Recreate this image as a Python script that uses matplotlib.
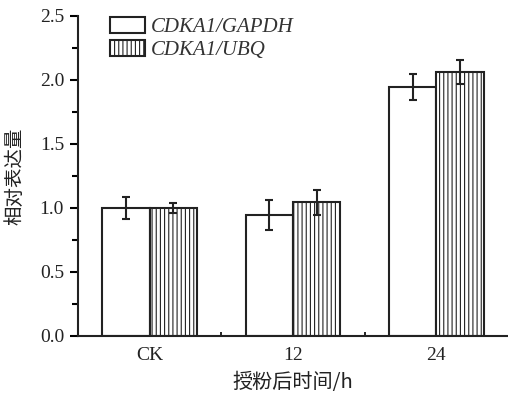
import numpy as np
import matplotlib.pyplot as plt
from matplotlib.ticker import MultipleLocator, FixedLocator

# data
groups = ['CK', '12', '24']
gapdh = [1.00, 0.945, 1.943]
gapdh_err = [0.085, 0.115, 0.10]
ubq = [1.00, 1.044, 2.065]
ubq_err = [0.04, 0.10, 0.095]

plt.rcParams['hatch.linewidth'] = 0.8
serif = ['Liberation Serif', 'DejaVu Serif']
cjk = ['Noto Sans CJK SC', 'DejaVu Sans']

fig = plt.figure(figsize=(5.08, 4.0), dpi=100)
ax = fig.add_axes([0.1535, 0.16, 0.8465, 0.80])

x = np.arange(len(groups))
w = 0.33
err_kw = dict(elinewidth=1.5, capsize=3, capthick=1.5, ecolor='#222222')
ax.bar(x - w / 2, gapdh, w, yerr=gapdh_err, color='white', edgecolor='#222222',
       linewidth=1.5, error_kw=err_kw, label='CDKA1/GAPDH')
ax.bar(x + w / 2, ubq, w, yerr=ubq_err, color='white', edgecolor='#222222',
       linewidth=1.5, hatch='||||', error_kw=err_kw, label='CDKA1/UBQ')

ax.set_xlim(-0.5, 2.5)
ax.set_ylim(0, 2.5)
ax.set_xticks(x)
ax.set_xticklabels(groups)
ax.xaxis.set_minor_locator(FixedLocator([0.5, 1.5]))
ax.yaxis.set_major_locator(MultipleLocator(0.5))
ax.yaxis.set_minor_locator(MultipleLocator(0.25))
ax.yaxis.set_major_formatter(plt.FormatStrFormatter('%.1f'))

for s in ['top', 'right']:
    ax.spines[s].set_visible(False)
for s in ['left', 'bottom']:
    ax.spines[s].set_linewidth(1.5)
    ax.spines[s].set_color('#222222')

ax.tick_params(axis='y', which='major', direction='out', length=6, width=1.5, pad=4)
ax.tick_params(axis='y', which='minor', direction='out', length=4, width=1.5)
ax.tick_params(axis='x', which='major', direction='in', length=0, pad=8)
ax.tick_params(axis='x', which='minor', direction='in', length=3, width=1.2)

for lab in ax.get_xticklabels() + ax.get_yticklabels():
    lab.set_family(serif)
    lab.set_fontsize(14)
    lab.set_color('#222222')

ax.set_xlabel('授粉后时间/h', family=cjk, fontsize=14.5, color='#222222', labelpad=6)
ax.set_ylabel('相对表达量', family=cjk, fontsize=14, color='#222222', labelpad=10)

leg = ax.legend(loc='upper left', bbox_to_anchor=(0.074, 0.998), frameon=False,
                borderaxespad=0, borderpad=0,
                prop=dict(family=serif, style='italic', size=15),
                handlelength=1.7, handleheight=0.8, handletextpad=0.25,
                labelspacing=0.15)
for t in leg.get_texts():
    t.set_color('#333333')

fig.savefig('out.png', dpi=100)
